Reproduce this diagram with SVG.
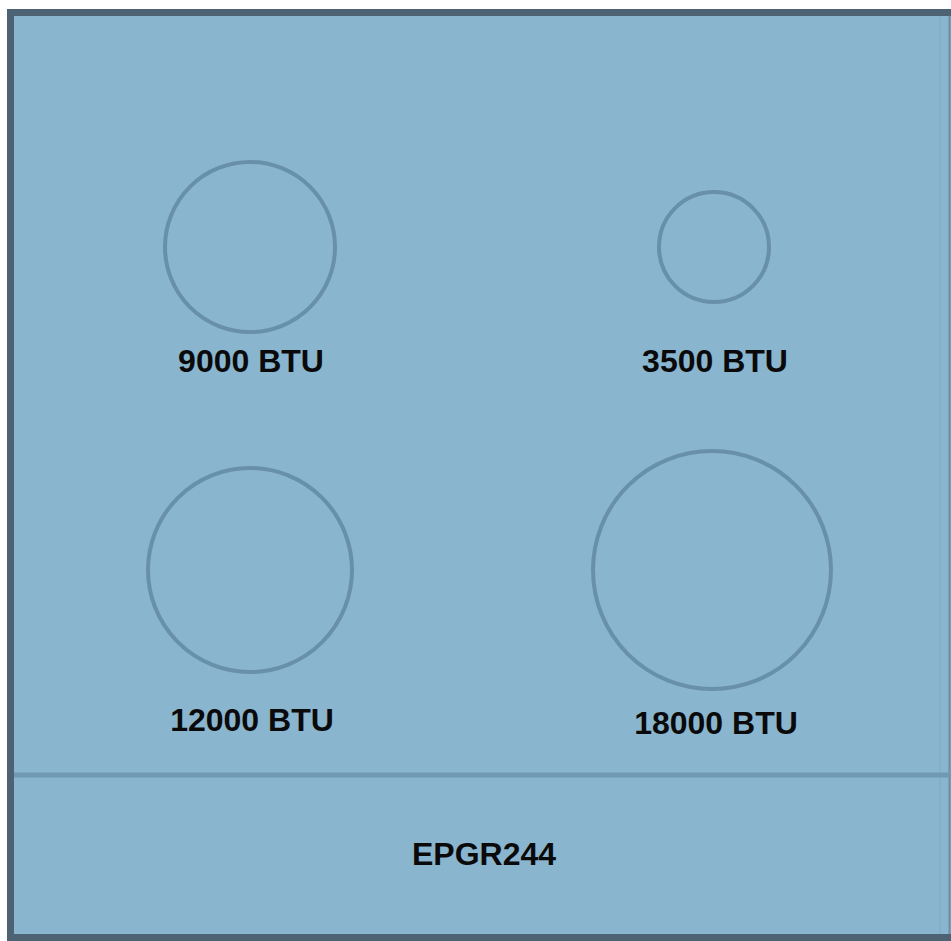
<svg xmlns="http://www.w3.org/2000/svg" width="951" height="941" viewBox="0 0 951 941">
<style>
.burner{fill:none;stroke:#6890aa;stroke-width:4}
.lbl{font-family:"Liberation Sans",Arial,sans-serif;font-weight:bold;font-size:32px;fill:#0a0a0a;text-anchor:middle}
</style>
<rect x="0" y="0" width="951" height="941" fill="#ffffff"/>
<g id="cooktop">
<rect x="10" y="12" width="941" height="926" fill="#89b5cf"/>
<line x1="940" y1="16" x2="940" y2="934" stroke="#80aac4" stroke-width="1"/>
<line x1="949.5" y1="16" x2="949.5" y2="934" stroke="#6f8ea3" stroke-width="2"/>
<path d="M951 12.5 H10.5 V937.5 H951" fill="none" stroke="#4d6272" stroke-width="7"/>
<line x1="14" y1="775" x2="951" y2="775" stroke="#7199b4" stroke-width="5"/>
</g>
<g id="burner-9000">
<circle class="burner" cx="250" cy="247" r="85"/>
<text class="lbl" x="251" y="372">9000 BTU</text>
</g>
<g id="burner-3500">
<circle class="burner" cx="714" cy="247" r="55"/>
<text class="lbl" x="715" y="372">3500 BTU</text>
</g>
<g id="burner-12000">
<circle class="burner" cx="250" cy="570" r="102"/>
<text class="lbl" x="252" y="731">12000 BTU</text>
</g>
<g id="burner-18000">
<circle class="burner" cx="712" cy="570" r="119"/>
<text class="lbl" x="716" y="734">18000 BTU</text>
</g>
<g id="model">
<text class="lbl" x="484" y="865">EPGR244</text>
</g>
<g id="connectors"></g>
</svg>
